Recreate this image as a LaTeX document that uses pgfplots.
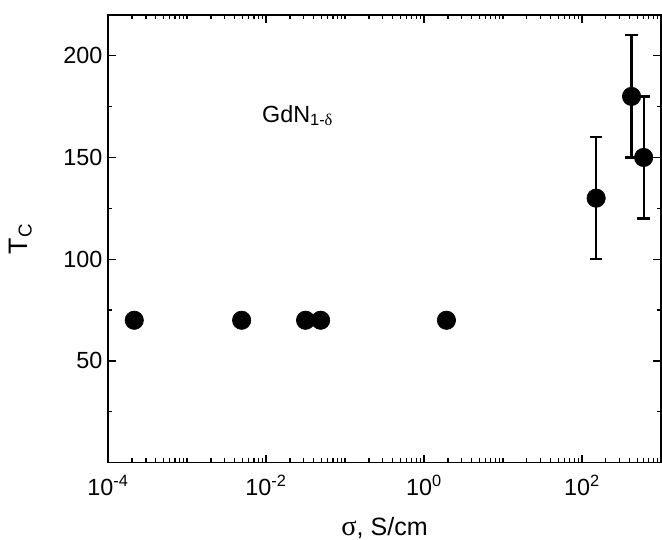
\documentclass[border=0pt]{standalone}
\usepackage{fontspec}
\setmainfont{Liberation Sans}
\newfontfamily\seriffont{Liberation Serif}
\usepackage{pgfplots}
\pgfplotsset{compat=1.18}
\begin{document}
\begin{tikzpicture}
\begin{axis}[
  scale only axis,
  width=331.2pt, height=268.2pt,
  xmode=log,
  xmin=1e-4, xmax=1e3,
  ymin=0, ymax=220,
  xtick={1e-4,1e-2,1,1e2},
  xticklabels={10\textsuperscript{-4},10\textsuperscript{-2},10\textsuperscript{0},10\textsuperscript{2}},
  minor xtick={2e-4,3e-4,4e-4,5e-4,6e-4,7e-4,8e-4,9e-4,
    1e-3,2e-3,3e-3,4e-3,5e-3,6e-3,7e-3,8e-3,9e-3,
    2e-2,3e-2,4e-2,5e-2,6e-2,7e-2,8e-2,9e-2,
    0.1,0.2,0.3,0.4,0.5,0.6,0.7,0.8,0.9,
    2,3,4,5,6,7,8,9,10,20,30,40,50,60,70,80,90,
    200,300,400,500,600,700,800,900},
  ytick={50,100,150,200},
  minor ytick={25,75,125,175},
  /pgf/number format/assume math mode=true,
  tick align=inside,
  major tick length=4.6pt,
  minor tick length=2.6pt,
  axis line style={line width=0.9pt},
  every tick/.style={line width=0.8pt, black},
  tick label style={font=\fontsize{14}{16}\selectfont},
  xticklabel style={yshift=-4pt},
  xlabel={{\seriffont\fontsize{17}{18}\selectfont σ}, S/cm},
  xlabel style={font=\fontsize{15}{16}\selectfont, yshift=-6pt},
  ylabel={T\textsubscript{C}},
  ylabel style={font=\fontsize{16}{18}\selectfont, yshift=12pt},
]
\coordinate (bl) at (rel axis cs:0,0);
\coordinate (tr) at (rel axis cs:1,1);
% error bars (value +- 30)
\addplot[black, line width=1.35pt, mark=-, mark size=3.8pt, mark options={line width=1.35pt}] coordinates {(151,100) (151,160)};
\addplot[black, line width=1.35pt, mark=-, mark size=3.8pt, mark options={line width=1.35pt}] coordinates {(424,150) (424,210)};
\addplot[black, line width=1.35pt, mark=-, mark size=3.8pt, mark options={line width=1.35pt}] coordinates {(603,120) (603,180)};
\addplot[only marks, mark=*, mark size=5.5pt, black] coordinates {
 (2.14e-4,70) (4.9e-3,70) (0.0316,70) (0.049,70) (1.92,70)
 (151,130) (424,180) (603,150)
};
\node[font=\fontsize{14}{16}\selectfont, anchor=west] at (axis cs:7.5e-3,170.5) {GdN\textsubscript{1-\seriffont δ}};
\end{axis}
\pgfresetboundingbox
\path ([shift={(-64.8pt,-46.2pt)}]bl) rectangle ([shift={(0.6pt,9pt)}]tr);
\end{tikzpicture}
\end{document}
